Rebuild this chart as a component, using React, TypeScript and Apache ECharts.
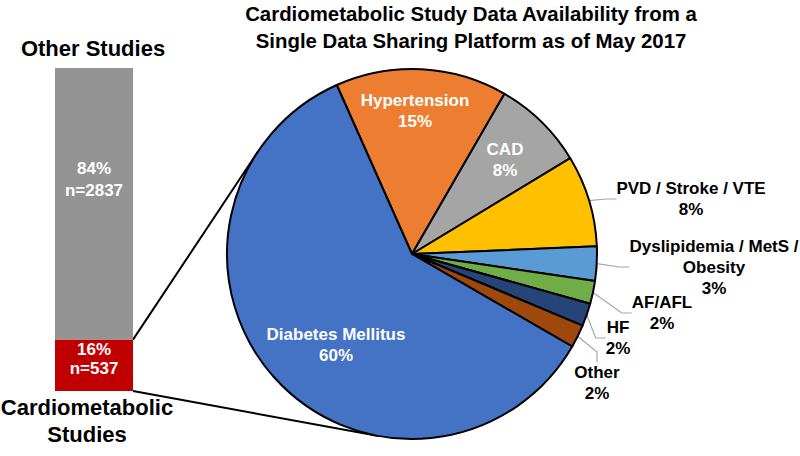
import React, { useEffect, useRef } from "react";
import * as echarts from "echarts";

const titleLines = [
  "Cardiometabolic Study Data Availability from a",
  "Single Data Sharing Platform as of May 2017",
];
const barCategories = ["Cardiometabolic Studies", "Other Studies"];
const barCounts = [537, 2837];
const barPercents = ["16%", "84%"];

const pieNames = [
  "Hypertension",
  "CAD",
  "PVD / Stroke / VTE",
  "Dyslipidemia / MetS / Obesity",
  "AF/AFL",
  "HF",
  "Other",
  "Diabetes Mellitus",
];
const pieLabels = [
  "Hypertension",
  "CAD",
  "PVD / Stroke / VTE",
  "Dyslipidemia / MetS /\nObesity",
  "AF/AFL",
  "HF",
  "Other",
  "Diabetes Mellitus",
];
const pieValues = [15, 8, 8, 3, 2, 2, 2, 60];
const pieColors = ["#ED7D31", "#A5A5A5", "#FFC000", "#5B9BD5", "#70AD47", "#264478", "#9E480E", "#4472C4"];
const insideLabel = [true, true, false, false, false, false, false, true];
// label centre positions (px)
const labelPos: [number, number][] = [
  [415, 111],
  [505, 160],
  [691, 199],
  [714, 267],
  [662, 313],
  [618, 338],
  [597, 383],
  [336, 345],
];

const FONT = "Liberation Sans, Arial, sans-serif";

export default function App() {
  const ref = useRef<HTMLDivElement>(null);
  useEffect(() => {
    document.body.style.margin = "0";
    if (!ref.current) return;
    const chart = echarts.init(ref.current, null, { renderer: "svg" });

    const cx = 412, cy = 254, r = 185;
    const gridLeft = 55, gridTop = 68, gridW = 78, gridH = 323;
    const total = barCounts[0] + barCounts[1];
    const barRight = gridLeft + gridW;
    const redTop = gridTop + gridH * (1 - barCounts[0] / total);
    const barBottom = gridTop + gridH;

    const tangent = (px: number, py: number, upper: boolean) => {
      const dx = px - cx, dy = py - cy;
      const d = Math.sqrt(dx * dx + dy * dy);
      const a = Math.atan2(dy, dx);
      const b = Math.acos(r / d);
      const ang = upper ? a + b : a - b;
      return [cx + r * Math.cos(ang), cy + r * Math.sin(ang)];
    };
    const t1 = tangent(barRight, redTop, true);
    const t2 = tangent(barRight, barBottom, false);

    chart.setOption({
      animation: false,
      backgroundColor: "#fff",
      textStyle: { fontFamily: FONT },
      title: [
        {
          text: titleLines.join("\n"),
          left: 466,
          top: -5,
          textAlign: "center",
          textStyle: { fontFamily: FONT, fontSize: 20.4, fontWeight: "bold", color: "#000", lineHeight: 27 },
        },
        {
          text: barCategories[1],
          left: 88,
          top: 32,
          textAlign: "center",
          textStyle: { fontFamily: FONT, fontSize: 22, fontWeight: "bold", color: "#000" },
        },
        {
          text: "Cardiometabolic\nStudies",
          left: 82,
          top: 389,
          textAlign: "center",
          textStyle: { fontFamily: FONT, fontSize: 22, fontWeight: "bold", color: "#000", lineHeight: 27 },
        },
      ],
      grid: { left: gridLeft, top: gridTop, width: gridW, height: gridH },
      xAxis: { type: "category", data: ["Studies"], show: false },
      yAxis: { type: "value", min: 0, max: total, show: false },
      graphic: [
        {
          type: "line",
          shape: { x1: barRight, y1: redTop, x2: t1[0], y2: t1[1] },
          style: { stroke: "#000", lineWidth: 2 },
          z: 0,
        },
        {
          type: "line",
          shape: { x1: barRight, y1: barBottom, x2: t2[0], y2: t2[1] },
          style: { stroke: "#000", lineWidth: 2 },
          z: 0,
        },
      ],
      series: [
        {
          type: "bar",
          name: barCategories[0],
          stack: "s",
          barWidth: "100%",
          data: [barCounts[0]],
          itemStyle: { color: "#C00000" },
          label: {
            show: true,
            position: "inside",
            offset: [0, -6],
            formatter: () => `${barPercents[0]}\nn=${barCounts[0]}`,
            color: "#fff",
            fontFamily: FONT,
            fontSize: 17,
            fontWeight: "bold",
            lineHeight: 19,
          },
        },
        {
          type: "bar",
          name: barCategories[1],
          stack: "s",
          barWidth: "100%",
          data: [barCounts[1]],
          itemStyle: { color: "#949494" },
          label: {
            show: true,
            position: "inside",
            offset: [0, -24],
            formatter: () => `${barPercents[1]}\nn=${barCounts[1]}`,
            color: "#fff",
            fontFamily: FONT,
            fontSize: 17,
            fontWeight: "bold",
            lineHeight: 22,
          },
        },
        {
          type: "pie",
          center: [cx, cy],
          radius: r,
          startAngle: 114,
          clockwise: true,
          avoidLabelOverlap: false,
          z: 3,
          itemStyle: { borderColor: "#000", borderWidth: 2 },
          data: pieNames.map((n, i) => ({
            name: n,
            value: pieValues[i],
            itemStyle: { color: pieColors[i] },
            label: {
              show: true,
              position: "outside",
              formatter: `${pieLabels[i]}\n${pieValues[i]}%`,
              color: insideLabel[i] ? "#fff" : "#000",
              fontFamily: FONT,
              fontSize: 17,
              fontWeight: "bold",
              lineHeight: 21,
              align: "center",
            },
            labelLine: {
              show: !insideLabel[i],
              length: 10,
              length2: 10,
              lineStyle: { color: "#A6A6A6", width: 1.2 },
            },
          })),
          labelLayout: (p: any) => ({
            x: labelPos[p.dataIndex][0],
            y: labelPos[p.dataIndex][1],
            align: "center",
            verticalAlign: "middle",
          }),
        },
      ],
    });
    return () => chart.dispose();
  }, []);
  return <div ref={ref} style={{ width: 800, height: 456 }} />;
}
